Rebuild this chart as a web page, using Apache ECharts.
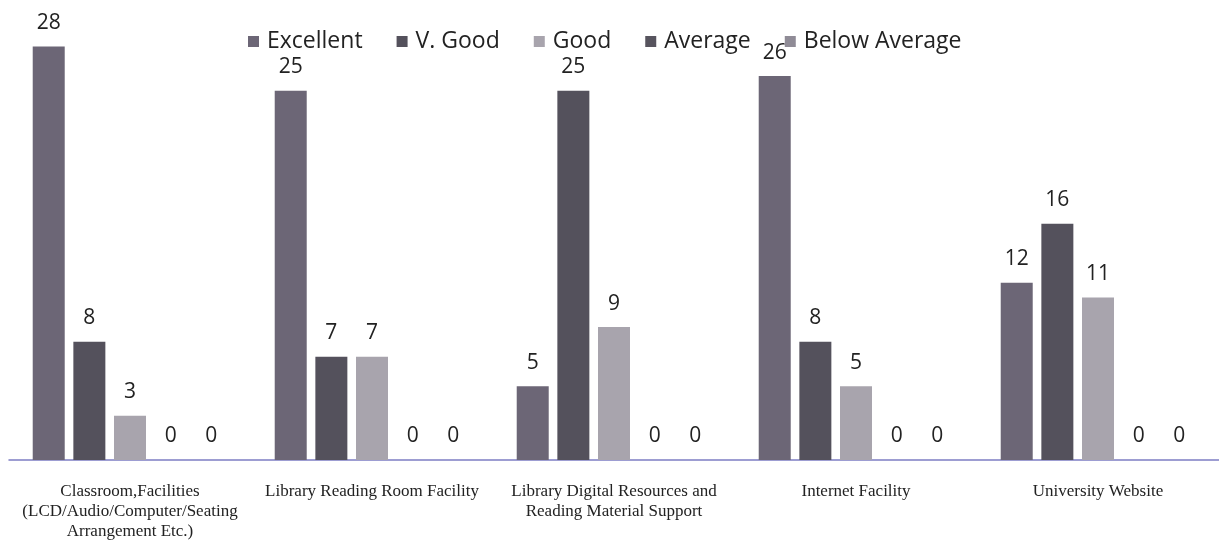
<!DOCTYPE html>
<html>
<head>
<meta charset="utf-8">
<script src="https://cdn.jsdelivr.net/npm/echarts@6/dist/echarts.min.js"></script>
<style>
  html, body { margin: 0; padding: 0; background: #fff; }
  #main { width: 1219px; height: 544px; }
</style>
</head>
<body>
<div id="main"></div>
<script>
// categories and ratings
var categories = [
  'Classroom,Facilities\n(LCD/Audio/Computer/Seating\nArrangement Etc.)',
  'Library Reading Room Facility',
  'Library Digital Resources and\nReading Material Support',
  'Internet Facility',
  'University Website'
];
var seriesNames = ['Excellent', 'V. Good', 'Good', 'Average', 'Below Average'];
var excellent = [28, 25, 5, 26, 12];
var vGood = [8, 7, 25, 8, 16];
var good = [3, 7, 9, 5, 11];
var average = [0, 0, 0, 0, 0];
var belowAverage = [0, 0, 0, 0, 0];

var colors = ['#6c6676', '#54515c', '#a8a4ad', '#57545e', '#8f8b96'];
var allData = [excellent, vGood, good, average, belowAverage];

var chart = echarts.init(document.getElementById('main'), null, { renderer: 'canvas' });

var series = seriesNames.map(function (name, i) {
  return {
    name: name,
    type: 'bar',
    data: allData[i],
    barWidth: 32,
    barGap: '27%',
    itemStyle: { color: colors[i] },
    label: {
      show: true,
      position: 'top',
      distance: 13,
      color: '#222',
      fontFamily: 'Open Sans',
      fontSize: 21
    }
  };
});

var option = {
  backgroundColor: '#ffffff',
  animation: false,
  color: colors,
  legend: {
    data: seriesNames,
    left: 243,
    top: 25,
    itemWidth: 11,
    itemHeight: 11,
    itemGap: 34,
    icon: 'rect',
    textStyle: { fontFamily: 'Open Sans', fontSize: 23, color: '#222', padding: [0, 0, 0, 3] }
  },
  grid: { left: 9, right: 0, top: 17, bottom: 84 },
  xAxis: {
    type: 'category',
    data: categories,
    axisLine: { lineStyle: { color: '#7d7ec4', width: 1.5 } },
    axisTick: { show: false },
    axisLabel: {
      fontFamily: 'Liberation Serif',
      fontSize: 17,
      color: '#222',
      lineHeight: 20,
      margin: 22,
      interval: 0
    }
  },
  yAxis: {
    type: 'value',
    min: 0,
    max: 30,
    show: false,
    splitLine: { show: false }
  },
  series: series
};

chart.setOption(option);
</script>
</body>
</html>
